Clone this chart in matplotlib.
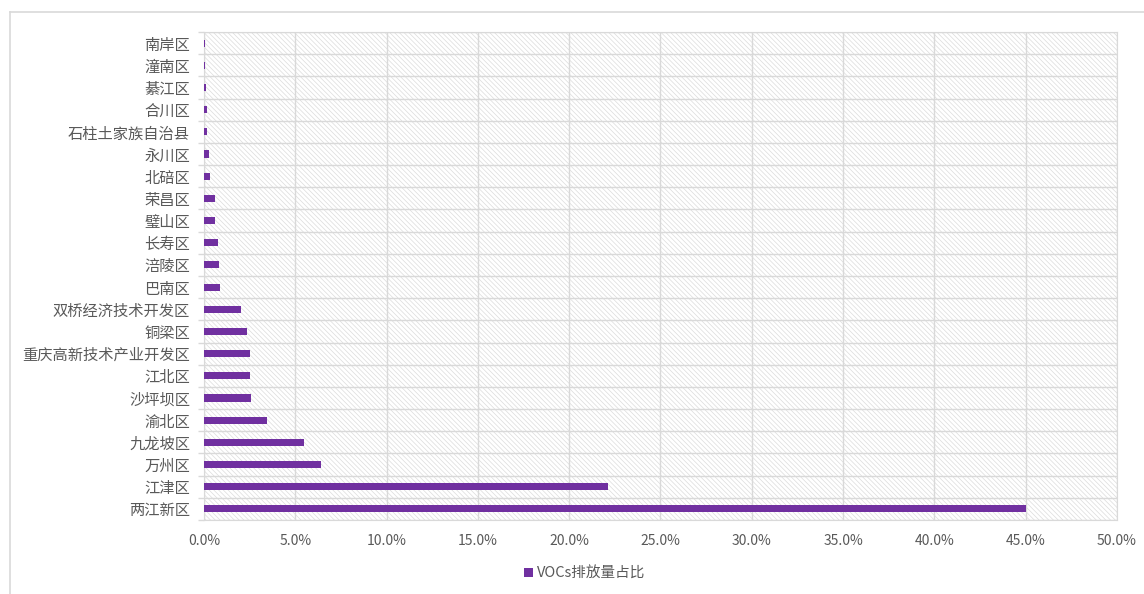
import matplotlib
matplotlib.use("Agg")
import matplotlib.pyplot as plt
from matplotlib.lines import Line2D
from matplotlib.patches import Rectangle
from matplotlib.ticker import FuncFormatter, FixedLocator

plt.rcParams['font.family'] = ['Noto Sans CJK SC', 'DejaVu Sans']
plt.rcParams['hatch.color'] = '#dcdcdc'
plt.rcParams['hatch.linewidth'] = 0.5

# bottom to top, as in the chart
districts = ["两江新区", "江津区", "万州区", "九龙坡区", "渝北区", "沙坪坝区", "江北区",
             "重庆高新技术产业开发区", "铜梁区", "双桥经济技术开发区", "巴南区", "涪陵区",
             "长寿区", "璧山区", "荣昌区", "北碚区", "永川区", "石柱土家族自治县",
             "合川区", "綦江区", "潼南区", "南岸区"]
voc_share = [45.0, 22.1, 6.4, 5.5, 3.45, 2.6, 2.5,
             2.5, 2.35, 2.05, 0.86, 0.8,
             0.75, 0.62, 0.6, 0.35, 0.3, 0.14,
             0.16, 0.1, 0.07, 0.07]
series_name = "VOCs排放量占比"

bar_color = "#7030a0"
grid_color = "#d9d9d9"
text_color = "#595959"

fig = plt.figure(figsize=(11.44, 5.94), dpi=100)
ax = fig.add_axes([0.1783, 0.1246, 0.7981, 0.8215])

# hatched plot area
ax.add_patch(Rectangle((0, 0), 1, 1, transform=ax.transAxes, facecolor="white",
                       hatch="\\" * 7, edgecolor="#dcdcdc", linewidth=0, zorder=0))

ypos = list(range(len(districts)))
ax.barh(ypos, voc_share, height=0.32, color=bar_color, zorder=3, label=series_name)

ax.set_xlim(0, 50)
ax.set_ylim(-0.5, len(districts) - 0.5)
ax.set_xticks(range(0, 51, 5))
ax.xaxis.set_major_formatter(FuncFormatter(lambda v, p: f"{v:.1f}%"))
ax.set_yticks(ypos)
ax.set_yticklabels(districts)
ax.yaxis.set_minor_locator(FixedLocator([i - 0.5 for i in range(len(districts) + 1)]))

ax.grid(axis="x", which="major", color=grid_color, linewidth=1.0, zorder=1)
ax.grid(axis="y", which="minor", color=grid_color, linewidth=1.0, zorder=1)
ax.set_axisbelow(True)

ax.tick_params(axis="x", length=0, labelsize=10, labelcolor=text_color, pad=10)
ax.tick_params(axis="y", which="major", length=0, labelsize=11, labelcolor=text_color, pad=10)
ax.tick_params(axis="y", which="minor", length=4, color=grid_color, width=1.0)

for side in ["top", "right", "left", "bottom"]:
    ax.spines[side].set_color(grid_color)

fig.legend(loc="center", bbox_to_anchor=(0.511, 0.034), frameon=False,
           handlelength=0.6, handleheight=0.6, handletextpad=0.3,
           prop={"size": 10.5}, labelcolor=text_color)

# outer chart frame (left and top edges visible)
fig.add_artist(Line2D([10 / 1144, 1.0], [1 - 12 / 594, 1 - 12 / 594],
                      transform=fig.transFigure, color=grid_color, linewidth=1.2))
fig.add_artist(Line2D([10 / 1144, 10 / 1144], [0.0, 1 - 12 / 594],
                      transform=fig.transFigure, color=grid_color, linewidth=1.2))

fig.savefig("out.png", dpi=100)
